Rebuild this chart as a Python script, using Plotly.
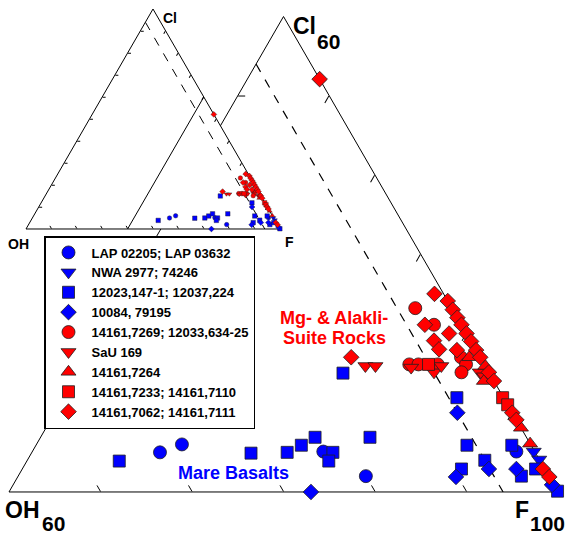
import plotly.graph_objects as go

BLUE = "#0000ff"
RED = "#ff0000"
FONT = "Liberation Sans, Arial, sans-serif"

# Values: Cl and F (mol %), OH = 100 - Cl - F
lap_cl = [5.0, 6.0, 5.1, 2.0, 5.1]
lap_f = [54.0, 55.9, 71.8, 78.0, 92.9]

nwa_cl = [5.1, 4.1]
nwa_f = [94.8, 95.9]

sq_cl = [3.9, 4.9, 5.0, 5.9, 6.9, 5.0, 3.9, 6.9, 15.0, 11.9, 5.9, 4.0, 2.9, 5.9, 2.0, 2.9, 0.1]
sq_f = [50.1, 64.0, 67.9, 69.0, 70.0, 72.9, 73.0, 76.0, 69.0, 83.0, 87.1, 90.0, 88.0, 92.0, 95.0, 96.1, 99.9]

bd_cl = [0.0, 10.0, 2.9, 1.9, 2.9, 0.9]
bd_f = [73.0, 84.0, 91.0, 87.9, 94.0, 98.9]

rc_cl = [23.2, 21.1, 16.1, 16.1, 16.1, 17.0, 16.1, 15.1]
rc_f = [72.8, 75.9, 75.7, 76.7, 78.8, 80.9, 81.9, 81.9]

sau_cl = [15.9, 15.9, 15.7, 15.1, 15.9, 15.1, 14.6]
sau_f = [71.0, 72.1, 76.1, 78.9, 79.3, 83.9, 84.6]

ut_cl = [17.0, 15.9, 14.0, 8.1, 6.1]
ut_f = [81.8, 84.1, 84.9, 91.9, 93.9]

rs_cl = [16.1, 11.9, 11.0]
rs_f = [77.8, 88.0, 89.0]

rd_cl = [52.1, 17.0, 25.0, 21.1, 19.1, 18.0, 20.0, 17.9, 24.1, 23.0, 22.0, 21.1,
         20.0, 19.0, 17.9, 17.0, 15.1, 14.0, 10.0, 9.1, 2.9, 1.9]
rd_f = [47.9, 68.9, 74.0, 74.9, 76.9, 78.0, 78.1, 80.0, 75.9, 77.0, 78.0, 78.9,
        80.0, 81.0, 82.1, 83.0, 84.9, 86.0, 90.0, 90.9, 96.9, 98.1]

series_names = ["LAP 02205; LAP 03632", "NWA 2977; 74246", "12023,147-1; 12037,224",
                "10084, 79195", "14161,7269; 12033,634-25", "SaU 169", "14161,7264",
                "14161,7233; 14161,7110", "14161,7062; 14161,7111"]

F_MIN = 40      # lower F limit of the enlarged diagram
OH_DASH = 6     # dashed reference line (constant OH)

series = [
    (series_names[0], lap_cl, lap_f, "circle", BLUE, 13),
    (series_names[1], nwa_cl, nwa_f, "triangle-down", BLUE, 13),
    (series_names[2], sq_cl, sq_f, "square", BLUE, 12),
    (series_names[3], bd_cl, bd_f, "diamond", BLUE, 12),
    (series_names[4], rc_cl, rc_f, "circle", RED, 13),
    (series_names[5], sau_cl, sau_f, "triangle-down", RED, 13),
    (series_names[6], ut_cl, ut_f, "triangle-up", RED, 13),
    (series_names[7], rs_cl, rs_f, "square", RED, 12),
    (series_names[8], rd_cl, rd_f, "diamond", RED, 12),
]

fig = go.Figure()

# main (enlarged) diagram: dashed line
fig.add_trace(go.Scatterternary(
    a=[100 - F_MIN - OH_DASH, 0], b=[OH_DASH, OH_DASH], c=[F_MIN, 100 - OH_DASH],
    mode="lines", line=dict(color="black", width=1.2, dash="dash"),
    showlegend=False, hoverinfo="skip", subplot="ternary"))

for name, cl, f, sym, col, sz in series:
    fig.add_trace(go.Scatterternary(
        a=cl, b=[100 - x - y for x, y in zip(cl, f)], c=f,
        mode="markers", name=name, subplot="ternary", cliponaxis=False,
        marker=dict(symbol=sym, color=col, size=sz, line=dict(color="#202020", width=0.8))))

# inset (full) diagram
fig.add_trace(go.Scatterternary(
    a=[100 - F_MIN, 0], b=[0, 100 - F_MIN], c=[F_MIN, F_MIN],
    mode="lines", line=dict(color="black", width=1),
    showlegend=False, hoverinfo="skip", subplot="ternary2"))
fig.add_trace(go.Scatterternary(
    a=[100 - OH_DASH, 0], b=[OH_DASH, OH_DASH], c=[0, 100 - OH_DASH],
    mode="lines", line=dict(color="black", width=1, dash="dash"),
    showlegend=False, hoverinfo="skip", subplot="ternary2"))
for name, cl, f, sym, col, sz in series:
    fig.add_trace(go.Scatterternary(
        a=cl, b=[100 - x - y for x, y in zip(cl, f)], c=f,
        mode="markers", name=name, subplot="ternary2", showlegend=False, cliponaxis=False,
        marker=dict(symbol=sym, color=col, size=4.5, line=dict(color="#202020", width=0.4))))


def tax(mn, ticklen, layer):
    return dict(min=mn, dtick=10, ticks="inside", ticklen=ticklen, tickwidth=1,
                tickcolor="black", showticklabels=False, showgrid=False,
                showline=True, linecolor="black", linewidth=1, title=dict(text=""),
                layer=layer)


W, H = 568, 536
fig.update_layout(
    width=W, height=H, margin=dict(l=0, r=0, t=0, b=0),
    paper_bgcolor="white", plot_bgcolor="white",
    font=dict(family=FONT, color="black"),
    ternary=dict(
        domain=dict(x=[9 / W, 558 / W], y=[(H - 492) / H, (H - 16.5) / H]),
        sum=100, bgcolor="white",
        aaxis=tax(0, 7, "below traces"), baxis=tax(0, 7, "below traces"),
        caxis=tax(F_MIN, 8, "below traces")),
    ternary2=dict(
        domain=dict(x=[26 / W, 280 / W], y=[(H - 229) / H, (H - 9) / H]),
        sum=100, bgcolor="white",
        aaxis=tax(0, 3, "below traces"), baxis=tax(0, 3, "below traces"),
        caxis=tax(0, 3, "below traces")),
    legend=dict(x=44 / W, y=1 - 236 / H, xanchor="left", yanchor="top",
                bgcolor="white", bordercolor="black", borderwidth=1.5,
                font=dict(family=FONT, size=13, weight="bold", color="black"),
                itemwidth=36, traceorder="normal"),
    showlegend=True,
)


def label(text, x, y, size, color="black", xanchor="left"):
    fig.add_annotation(text=text, x=x / W, y=1 - y / H, xref="paper", yref="paper",
                       xanchor=xanchor, yanchor="middle", showarrow=False,
                       font=dict(family=FONT, size=size, color=color, weight="bold"))


label("Cl", 291, 26, 23)
label("60", 315, 41, 21)
label("OH", 3, 510, 23)
label("60", 40, 523, 21)
label("F", 513, 510, 23)
label("100", 528, 523, 21)
label("Cl", 161, 18, 14)
label("OH", 6, 244, 14)
label("F", 283, 242, 14)
label("Mg- & Alakli-", 334, 318, 18, RED, "center")
label("Suite Rocks", 334, 338, 18, RED, "center")
label("Mare Basalts", 233, 473, 18, BLUE, "center")

# remove the browser's default page margin so the figure fills the window
fig.write_html("out.html", config={"displayModeBar": False},
               post_script="document.body.style.margin='0px';")
